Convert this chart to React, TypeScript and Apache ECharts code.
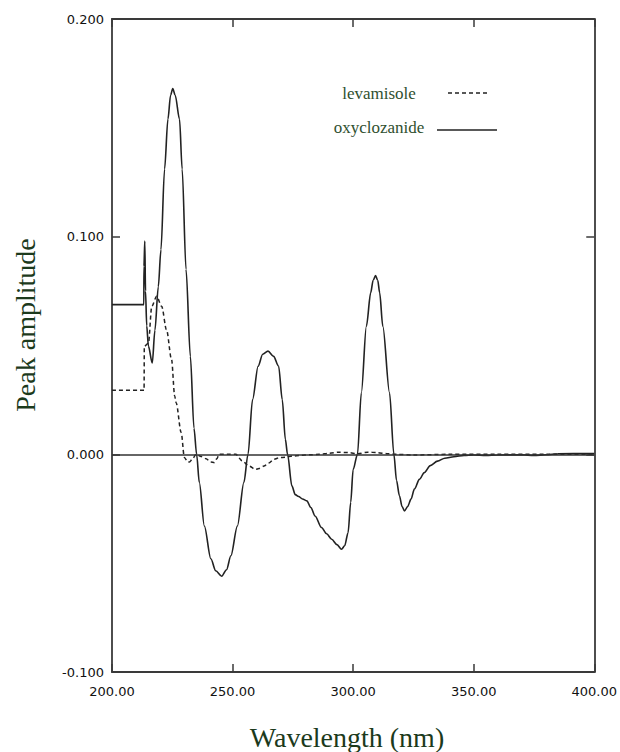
import React, { useEffect, useRef } from "react";
import * as echarts from "echarts";

const oxyWavelength = [
  200, 213.2, 213.25, 213.6, 213.9, 214.4, 215.1, 216.7, 217.8, 219.2, 220.3, 221.8, 223.2, 224.3, 225.2,
  226.2, 228.0, 229.1, 230.7, 232.5, 234, 235.1, 236.2, 238.3, 241, 243, 245.5, 247.5, 249.3, 252, 254.7,
  256.4, 258.3, 260.6, 262.5, 264.7, 267, 269.1, 270.6, 271.9, 272.8, 274.6, 276, 277.4, 279, 280.8, 282.5,
  284.2, 286.9, 289, 291.1, 293.3, 295.2, 296.5, 297.9, 299, 300, 301.8, 303.4, 305.5, 307.3, 308.3, 309.3,
  310.2, 311.0, 312.3, 315.1, 316.9, 318, 319.2, 320.3, 321.3, 322.6, 324, 325.4, 327.5, 329.5, 332, 335,
  338, 341.8, 346, 350, 355, 360, 370, 375, 380, 385, 400,
];
const oxyValues = [
  0.0688, 0.0688, 0.0864, 0.098, 0.075, 0.059, 0.0497, 0.042, 0.057, 0.077, 0.094, 0.131, 0.154, 0.165, 0.168,
  0.165, 0.154, 0.131, 0.085, 0.045, 0.012, 0, -0.0129, -0.0329, -0.048, -0.0535, -0.056, -0.053, -0.0466,
  -0.0329, -0.0129, 0, 0.0252, 0.0405, 0.046, 0.0474, 0.045, 0.0405, 0.0252, 0.0069, 0, -0.0145, -0.0185,
  -0.0194, -0.0205, -0.0214, -0.0245, -0.0283, -0.0336, -0.0365, -0.039, -0.0415, -0.0436, -0.042, -0.036,
  -0.022, -0.007, 0, 0.0283, 0.0589, 0.0743, 0.08, 0.0821, 0.08, 0.0743, 0.0589, 0.0283, 0, -0.012, -0.019,
  -0.024, -0.026, -0.024, -0.0206, -0.016, -0.0115, -0.0084, -0.0052, -0.0031, -0.0018, -0.0011, -0.0005,
  -0.0003, -0.0005, -0.0003, -0.0002, -0.0005, -0.0002, 0.0003, 0.0004,
];

const levWavelength = [
  200, 213.3, 213.4, 215.1, 216.5, 218.5, 220.6, 222.6, 224.7, 226.0, 226.6, 228.7, 230, 231.4, 232.1, 233.5,
  234.8, 237, 239, 241, 242.4, 243.5, 244.4, 248, 251.3, 254, 256.8, 259.5, 261, 263, 265, 267.1, 269.5,
  271.9, 275, 278, 282, 286, 290, 294, 298, 302, 306, 310, 314, 318, 325, 340, 360, 380, 400,
];
const levValues = [
  0.0294, 0.0294, 0.0497, 0.051, 0.068, 0.0726, 0.068, 0.0573, 0.0436, 0.0268, 0.0237, 0.01, -0.0014, -0.0035,
  -0.0035, -0.002, 0, -0.001, -0.002, -0.0035, -0.0038, -0.002, 0, 0, 0, -0.003, -0.0054, -0.0069, -0.0065,
  -0.0054, -0.004, -0.0023, -0.0015, -0.0013, -0.0008, -0.0005, -0.0002, 0, 0.0005, 0.001, 0.0008, 0.0003,
  0.001, 0.0008, 0.0003, 0, -0.0003, 0, 0, 0, 0,
];

const seriesNames = ["levamisole", "oxyclozanide"];
const xTitle = "Wavelength (nm)";
const yTitle = "Peak amplitude";

const GREEN_TITLE = "#1c3a1c";
const GREEN_LEGEND = "#2f4f2f";
const INK = "#222";
const SERIF = "'Liberation Serif', 'Times New Roman', serif";
const SANS = "'DejaVu Sans', Verdana, sans-serif";

export default function App() {
  const ref = useRef<HTMLDivElement>(null);
  useEffect(() => {
    document.body.style.margin = "0";
    if (!ref.current) return;
    const chart = echarts.init(ref.current, undefined, { renderer: "svg" });
    const axisLine = { show: true, onZero: false, lineStyle: { color: "#3a3a3a", width: 1.8 } };
    const tick = { show: true, inside: true, length: 8, lineStyle: { color: "#3a3a3a", width: 1.5 } };
    const xBase = { type: "value", min: 200, max: 400, interval: 50, splitLine: { show: false }, axisLine, axisTick: tick };
    const yBase = { type: "value", min: -0.1, max: 0.2, interval: 0.1, splitLine: { show: false }, axisLine, axisTick: tick };
    chart.setOption({
      animation: false,
      backgroundColor: "#fff",
      grid: { left: 112, right: 22, top: 19, bottom: 80 },
      xAxis: [
        {
          ...xBase,
          position: "bottom",
          axisLabel: { margin: 13, fontFamily: SANS, fontSize: 13, color: "#111", formatter: (v: number) => v.toFixed(2) },
        },
        { ...xBase, position: "top", axisLabel: { show: false } },
      ],
      yAxis: [
        {
          ...yBase,
          position: "left",
          axisLabel: { margin: 8, fontFamily: SANS, fontSize: 13, color: "#111", formatter: (v: number) => v.toFixed(3) },
        },
        { ...yBase, position: "right", axisLabel: { show: false } },
      ],
      series: [
        {
          name: seriesNames[0],
          type: "line",
          showSymbol: false,
          smooth: 0.3,
          smoothMonotone: "x",
          data: levWavelength.map((w, i) => [w, levValues[i]]),
          lineStyle: { color: INK, width: 1.5, type: [4, 3] },
          z: 3,
        },
        {
          name: seriesNames[1],
          type: "line",
          showSymbol: false,
          smooth: 0.3,
          smoothMonotone: "x",
          data: oxyWavelength.map((w, i) => [w, oxyValues[i]]),
          lineStyle: { color: INK, width: 1.6 },
          z: 4,
          markLine: {
            silent: true,
            symbol: "none",
            label: { show: false },
            lineStyle: { color: "#333", width: 1.5, type: "solid" },
            data: [{ yAxis: 0 }],
          },
        },
      ],
      graphic: [
        {
          type: "text",
          x: 25,
          y: 325,
          rotation: Math.PI / 2,
          style: { text: yTitle, font: `28px ${SERIF}`, fill: GREEN_TITLE, align: "center", verticalAlign: "middle" },
        },
        {
          type: "text",
          x: 347,
          y: 737,
          style: { text: xTitle, font: `28px ${SERIF}`, fill: GREEN_TITLE, align: "center", verticalAlign: "middle" },
        },
        {
          type: "text",
          x: 379,
          y: 93,
          style: { text: seriesNames[0], font: `17px ${SERIF}`, fill: GREEN_LEGEND, align: "center", verticalAlign: "middle" },
        },
        {
          type: "text",
          x: 379,
          y: 127,
          style: { text: seriesNames[1], font: `17px ${SERIF}`, fill: GREEN_LEGEND, align: "center", verticalAlign: "middle" },
        },
        {
          type: "line",
          shape: { x1: 448, y1: 93, x2: 488, y2: 93 },
          style: { stroke: INK, lineWidth: 1.5, lineDash: [4, 3] },
        },
        {
          type: "line",
          shape: { x1: 437, y1: 130, x2: 497, y2: 130 },
          style: { stroke: INK, lineWidth: 1.6 },
        },
      ],
    });
    return () => chart.dispose();
  }, []);
  return <div ref={ref} style={{ width: 620, height: 752 }} />;
}
